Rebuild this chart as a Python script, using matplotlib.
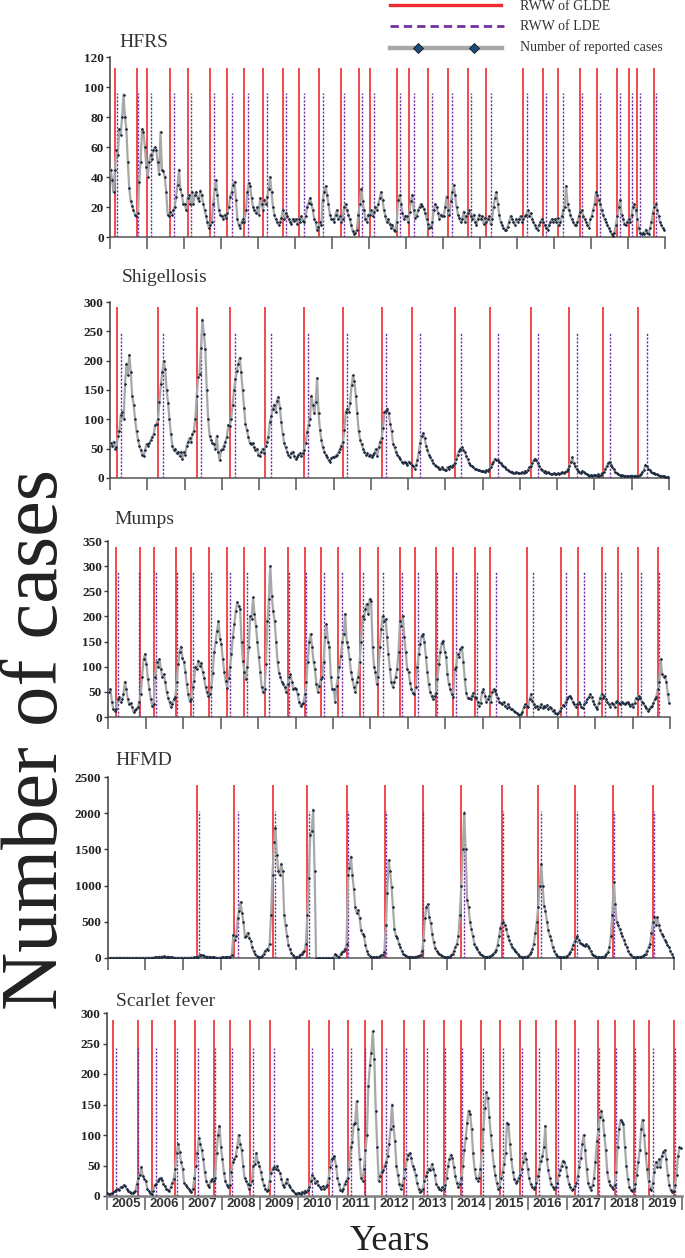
import numpy as np
import matplotlib
matplotlib.use("Agg")
import matplotlib.pyplot as plt
from matplotlib.lines import Line2D
import matplotlib.transforms as mtransforms

# ---------------- data (bi-weekly readings, 2005-2019) ----------------
year_labels = [str(y) for y in range(2005, 2020)]

hfrs_cases = [
    45, 38, 30, 45, 58, 55, 72, 68, 80, 95, 80, 72, 50, 33, 24, 21, 18, 15, 14, 16, 37, 50, 72, 70, 60, 47,
    40, 50, 55, 52, 58, 60, 58, 50, 42, 70, 45, 44, 40, 30, 15, 14, 17, 15, 18, 20, 27, 35, 45, 32, 28, 22,
    22, 18, 26, 28, 22, 30, 22, 28, 30, 26, 24, 31, 28, 22, 18, 14, 10, 6, 8, 10, 22, 32, 38, 28, 18, 15,
    14, 12, 15, 13, 16, 20, 27, 30, 35, 37, 25, 12, 8, 6, 10, 12, 10, 18, 30, 36, 34, 26, 20, 18, 16, 20,
    15, 26, 22, 18, 25, 22, 27, 32, 40, 30, 20, 15, 12, 10, 8, 10, 13, 18, 12, 16, 14, 12, 10, 9, 12, 11,
    12, 9, 12, 10, 14, 11, 10, 14, 20, 23, 26, 22, 18, 12, 10, 5, 7, 10, 8, 25, 30, 34, 28, 22, 15, 12,
    12, 10, 15, 18, 12, 14, 10, 12, 20, 22, 18, 15, 12, 8, 4, 2, 3, 5, 15, 22, 32, 24, 18, 12, 10, 15,
    15, 18, 14, 17, 20, 18, 22, 26, 30, 25, 18, 14, 10, 12, 9, 6, 8, 5, 4, 10, 25, 28, 22, 16, 12, 14,
    14, 10, 17, 24, 28, 18, 13, 14, 18, 20, 22, 21, 19, 16, 12, 9, 6, 7, 10, 18, 22, 20, 16, 12, 15, 14,
    14, 20, 27, 18, 15, 24, 30, 35, 28, 20, 15, 13, 10, 12, 17, 10, 14, 16, 18, 14, 12, 15, 10, 8, 12, 15,
    12, 14, 9, 13, 10, 12, 14, 9, 12, 20, 26, 30, 22, 15, 10, 8, 6, 5, 5, 7, 10, 14, 12, 10, 8, 12,
    10, 12, 14, 10, 12, 14, 15, 18, 14, 16, 12, 10, 8, 6, 5, 8, 10, 12, 10, 8, 6, 5, 8, 10, 12, 10,
    12, 10, 13, 8, 10, 14, 18, 20, 34, 22, 18, 15, 12, 10, 8, 8, 10, 14, 17, 18, 14, 12, 10, 8, 6, 12,
    14, 18, 22, 30, 28, 25, 22, 18, 15, 12, 10, 8, 6, 4, 2, 1, 3, 8, 14, 20, 25, 15, 12, 9, 8, 10,
    12, 10, 15, 20, 22, 18, 12, 6, 3, 2, 3, 2, 5, 3, 2, 6, 10, 16, 20, 22, 18, 14, 10, 8, 6, 5,
]

shigellosis_cases = [
    60, 55, 62, 50, 52, 72, 80, 108, 112, 100, 160, 195, 175, 210, 180, 140, 125, 100, 80, 65, 55, 48, 40, 38, 48, 58,
    55, 60, 65, 70, 75, 90, 92, 100, 130, 160, 180, 200, 185, 150, 128, 100, 75, 55, 48, 50, 42, 45, 38, 45, 32, 45,
    40, 55, 62, 68, 62, 75, 80, 100, 140, 172, 178, 222, 270, 245, 220, 150, 100, 72, 65, 60, 58, 50, 72, 45, 30, 48,
    50, 55, 62, 70, 90, 88, 100, 125, 150, 168, 182, 195, 205, 180, 150, 120, 92, 82, 70, 60, 58, 60, 52, 48, 50, 40,
    38, 45, 50, 42, 55, 62, 70, 95, 105, 118, 125, 112, 132, 138, 120, 95, 75, 60, 52, 45, 40, 36, 42, 45, 38, 32,
    35, 40, 42, 38, 42, 48, 60, 78, 90, 100, 140, 125, 110, 130, 170, 110, 82, 65, 52, 45, 40, 35, 30, 28, 34, 36,
    35, 38, 40, 45, 50, 55, 62, 82, 112, 118, 112, 128, 158, 175, 165, 140, 110, 80, 65, 58, 50, 45, 40, 42, 38, 40,
    35, 40, 42, 50, 38, 52, 62, 68, 85, 112, 115, 118, 110, 92, 80, 58, 52, 45, 40, 36, 32, 28, 25, 28, 26, 22,
    28, 25, 22, 20, 16, 22, 30, 45, 60, 72, 76, 68, 55, 48, 40, 35, 30, 25, 22, 20, 18, 16, 15, 18, 15, 14,
    14, 18, 15, 20, 18, 22, 25, 32, 40, 46, 50, 52, 48, 44, 38, 32, 26, 22, 20, 18, 16, 15, 14, 13, 12, 12,
    12, 10, 13, 12, 15, 18, 24, 28, 32, 31, 30, 28, 25, 22, 20, 18, 15, 14, 12, 10, 11, 9, 8, 10, 9, 8,
    8, 10, 8, 12, 10, 14, 18, 20, 25, 30, 33, 30, 25, 20, 16, 13, 11, 12, 9, 10, 8, 7, 6, 8, 7, 6,
    8, 6, 8, 10, 8, 10, 12, 15, 20, 28, 35, 25, 20, 15, 12, 10, 8, 12, 10, 8, 6, 5, 4, 5, 4, 5,
    5, 4, 6, 3, 5, 8, 10, 15, 20, 25, 28, 22, 18, 15, 10, 8, 6, 5, 4, 5, 4, 3, 4, 3, 3, 4,
    4, 3, 4, 4, 3, 5, 7, 10, 14, 22, 20, 16, 13, 11, 9, 8, 7, 6, 5, 4, 4, 3, 3, 2, 2, 2,
]

mumps_cases = [
    50, 55, 30, 15, 12, 15, 35, 40, 30, 35, 45, 70, 55, 35, 25, 28, 20, 10, 14, 15, 20, 30, 45, 80, 115, 125,
    105, 75, 55, 35, 22, 25, 80, 110, 100, 115, 95, 80, 85, 70, 50, 38, 30, 20, 25, 35, 40, 70, 105, 130, 140, 118,
    110, 90, 65, 45, 32, 35, 60, 72, 100, 95, 112, 102, 108, 90, 78, 60, 50, 42, 45, 60, 88, 130, 150, 172, 190, 155,
    145, 115, 90, 72, 58, 78, 100, 125, 160, 185, 210, 228, 220, 215, 150, 112, 90, 75, 100, 140, 200, 195, 238, 205, 180, 150,
    120, 90, 60, 50, 55, 105, 190, 235, 300, 240, 210, 190, 150, 110, 88, 80, 70, 65, 60, 50, 65, 80, 85, 70, 55, 58,
    55, 45, 30, 22, 25, 28, 45, 70, 110, 150, 165, 140, 110, 95, 65, 50, 62, 75, 80, 110, 160, 185, 150, 140, 80, 55,
    55, 30, 62, 80, 100, 122, 150, 165, 205, 150, 140, 115, 90, 75, 60, 50, 70, 80, 110, 150, 200, 195, 215, 225, 205, 235,
    230, 140, 100, 90, 65, 80, 140, 175, 200, 190, 195, 160, 125, 95, 70, 60, 70, 80, 95, 130, 190, 180, 200, 160, 130, 95,
    90, 68, 55, 48, 45, 60, 100, 125, 145, 162, 165, 150, 120, 90, 65, 50, 42, 35, 42, 48, 75, 105, 130, 148, 152, 130,
    120, 85, 65, 55, 45, 40, 95, 100, 125, 120, 135, 140, 110, 75, 48, 38, 38, 35, 42, 48, 40, 38, 30, 22, 28, 50,
    55, 42, 30, 35, 42, 30, 50, 55, 52, 45, 38, 30, 28, 25, 30, 22, 18, 25, 20, 15, 15, 12, 10, 8, 5, 4,
    5, 10, 20, 25, 22, 20, 35, 45, 32, 25, 20, 22, 15, 20, 25, 18, 22, 20, 24, 16, 20, 17, 12, 14, 8, 6,
    8, 12, 18, 24, 22, 30, 35, 40, 42, 38, 30, 25, 20, 25, 30, 25, 20, 18, 25, 30, 35, 40, 45, 40, 32, 25,
    20, 15, 28, 38, 45, 38, 42, 35, 30, 25, 20, 28, 25, 20, 30, 32, 28, 25, 30, 28, 25, 28, 30, 25, 22, 25,
    20, 28, 38, 35, 42, 38, 30, 28, 22, 18, 12, 15, 20, 22, 28, 35, 40, 55, 70, 115, 85, 80, 82, 70, 45, 28,
]

hfmd_cases = [
    2, 3, 2, 3, 2, 3, 3, 4, 3, 3, 4, 3, 3, 2, 2, 3, 2, 2, 2, 3, 2, 2, 3, 2, 2, 2,
    3, 3, 4, 5, 5, 6, 8, 10, 12, 15, 18, 20, 22, 20, 18, 15, 12, 10, 8, 6, 5, 4, 4, 3, 3, 3,
    3, 3, 4, 4, 5, 5, 6, 8, 10, 12, 15, 45, 40, 35, 25, 20, 18, 15, 12, 10, 8, 8, 6, 6, 5, 5,
    10, 8, 8, 10, 12, 15, 20, 40, 320, 250, 300, 550, 650, 770, 620, 500, 290, 300, 350, 280, 240, 150, 90, 50, 25, 12,
    10, 15, 30, 60, 100, 120, 110, 200, 600, 1150, 1600, 1800, 1420, 1200, 1150, 1300, 1200, 600, 450, 300, 180, 120, 70, 35, 18, 10,
    10, 20, 45, 60, 80, 100, 200, 600, 1100, 1700, 1750, 2050, 1200, 0, 0, 0, 0, 0, 0, 0, 0, 0, 0, 0, 0, 0,
    50, 35, 18, 15, 60, 80, 100, 120, 200, 1150, 1250, 1400, 1150, 950, 700, 620, 660, 550, 380, 330, 310, 180, 100, 50, 25, 12,
    10, 12, 10, 15, 18, 25, 35, 45, 80, 450, 900, 1350, 1200, 980, 700, 400, 300, 280, 200, 150, 100, 60, 40, 28, 20, 15,
    15, 12, 10, 15, 20, 25, 30, 40, 100, 250, 550, 700, 740, 560, 480, 330, 220, 140, 100, 75, 55, 40, 25, 18, 12, 8,
    10, 20, 40, 60, 100, 150, 200, 300, 600, 1000, 1500, 2000, 1500, 800, 700, 500, 400, 300, 200, 150, 120, 80, 60, 40, 25, 15,
    10, 12, 18, 25, 40, 60, 80, 110, 180, 300, 420, 490, 500, 450, 400, 300, 250, 200, 150, 120, 100, 80, 50, 30, 20, 12,
    10, 15, 20, 30, 50, 80, 120, 200, 350, 500, 700, 1000, 1300, 1000, 720, 650, 500, 380, 300, 250, 150, 100, 50, 30, 20, 10,
    8, 10, 15, 20, 30, 50, 80, 120, 180, 230, 280, 300, 250, 210, 200, 180, 160, 190, 170, 140, 100, 60, 40, 25, 15, 10,
    8, 10, 15, 20, 30, 50, 80, 150, 300, 600, 1050, 750, 500, 450, 400, 350, 300, 250, 200, 150, 100, 60, 35, 20, 12, 8,
    8, 10, 15, 20, 30, 40, 60, 100, 150, 200, 350, 500, 560, 450, 560, 450, 380, 335, 300, 250, 220, 180, 150, 100, 50, 20,
]

scarlet_cases = [
    5, 3, 3, 5, 6, 8, 10, 12, 10, 15, 14, 18, 16, 12, 9, 7, 5, 5, 6, 9, 20, 30, 35, 48, 32, 28,
    25, 12, 8, 5, 3, 8, 18, 20, 24, 28, 30, 26, 20, 16, 12, 10, 8, 15, 22, 28, 45, 70, 85, 72, 55, 45,
    22, 18, 15, 12, 8, 6, 12, 30, 50, 70, 95, 85, 75, 60, 40, 25, 18, 15, 25, 28, 25, 30, 70, 100, 115, 80,
    60, 38, 25, 18, 15, 18, 40, 55, 60, 65, 80, 100, 85, 75, 50, 30, 25, 20, 12, 18, 25, 50, 52, 70, 55, 50,
    40, 28, 18, 12, 8, 10, 25, 38, 45, 48, 45, 50, 42, 38, 28, 18, 15, 22, 28, 18, 14, 10, 8, 5, 3, 5,
    5, 3, 7, 5, 9, 6, 10, 15, 25, 35, 30, 22, 25, 18, 15, 12, 16, 12, 15, 18, 30, 48, 60, 63, 65, 50,
    30, 20, 10, 8, 12, 20, 25, 30, 45, 80, 88, 118, 120, 155, 110, 60, 30, 25, 45, 75, 100, 180, 215, 235, 270, 225,
    140, 80, 25, 32, 40, 42, 50, 55, 65, 85, 110, 150, 115, 90, 50, 35, 20, 12, 18, 30, 45, 60, 68, 70, 62, 50,
    45, 35, 22, 12, 6, 8, 12, 25, 32, 40, 45, 42, 52, 45, 35, 20, 15, 12, 10, 14, 12, 18, 30, 50, 60, 68,
    62, 48, 32, 22, 15, 20, 30, 50, 75, 95, 120, 140, 135, 110, 70, 45, 30, 25, 30, 45, 75, 110, 145, 170, 160, 130,
    100, 75, 50, 35, 22, 12, 15, 30, 40, 52, 70, 120, 118, 85, 60, 40, 28, 22, 25, 30, 35, 45, 55, 70, 60, 45,
    30, 20, 14, 12, 15, 22, 32, 45, 58, 65, 80, 115, 60, 42, 30, 20, 15, 12, 15, 22, 35, 42, 50, 58, 55, 48,
    32, 20, 14, 10, 12, 16, 22, 32, 48, 62, 85, 100, 75, 45, 22, 14, 10, 18, 30, 55, 90, 110, 130, 140, 125, 100,
    75, 40, 25, 18, 14, 12, 18, 40, 80, 110, 125, 122, 118, 80, 50, 28, 15, 10, 8, 12, 20, 35, 55, 75, 110, 125,
    100, 70, 45, 25, 12, 10, 22, 40, 55, 48, 60, 48, 65, 72, 75, 60, 35, 18, 10, 7, 8, 18, 35, 65, 80, 78,
]

# RWW week indices (week 0 = first week of 2005)
hfrs_gl = [7, 38, 52, 85, 110, 140, 165, 189, 215, 243, 266, 294, 325, 350, 365, 404, 420, 447, 475, 503,
           528, 580, 609, 630, 660, 684, 712, 730, 741, 764]
hfrs_l = [10, 40, 57, 90, 114, 146, 171, 194, 221, 248, 272, 300, 329, 354, 371, 408, 427, 452, 480, 508,
          535, 586, 613, 636, 664, 688, 717, 733, 745, 768]
shig_gl = [10, 67, 122, 167, 216, 271, 325, 379, 421, 482, 530, 588, 641, 688, 737]
shig_l = [15, 74, 127, 174, 224, 276, 330, 385, 433, 490, 541, 597, 652, 698, 749]
mumps_gl = [10, 44, 63, 94, 115, 140, 165, 189, 218, 249, 273, 296, 319, 350, 375, 405, 426, 455, 478, 509,
            530, 581, 629, 652, 685, 708, 735, 763]
mumps_l = [13, 43, 66, 96, 118, 143, 169, 192, 223, 251, 275, 299, 324, 354, 381, 408, 430, 457, 483, 512,
           538, 590, 635, 660, 690, 712, 740, 765]
hfmd_gl = [123, 174, 227, 274, 330, 382, 434, 487, 543, 593, 644, 696, 751]
hfmd_l = [126, 179, 231, 277, 331, 383, 434, 491, 544, 597, 647, 698, 752]
scarlet_gl = [8, 42, 62, 92, 120, 146, 167, 195, 221, 274, 302, 328, 350, 374, 403, 430, 457, 481, 508, 534,
              560, 583, 610, 635, 666, 689, 715, 735, 769]
scarlet_l = [12, 43, 67, 95, 124, 147, 170, 198, 227, 278, 305, 331, 351, 379, 406, 434, 459, 482, 510, 537,
             563, 586, 612, 640, 668, 691, 717, 741, 771]

titles = ["HFRS", "Shigellosis", "Mumps", "HFMD", "Scarlet fever"]
y_max = [120, 300, 350, 2500, 300]
y_step = [20, 50, 50, 500, 50]
gl_top = [113, 291, 339, 2385, 288]
l_top = [96, 247, 288, 2027, 242]

# ---------------- layout ----------------
W, H = 685, 1258
fig = plt.figure(figsize=(W / 100, H / 100), dpi=100)
SERIF = ["Liberation Serif", "DejaVu Serif"]
N_WEEKS = 780

# axes boxes in pixels: left, right, top, bottom
boxes = [(110, 665, 57, 237), (110, 669, 302, 478), (108.3, 670, 541, 717),
         (107.7, 674, 777, 958), (106.7, 681.7, 1013, 1196)]
title_pos = [(119, 47), (122, 282), (114, 524), (115, 765), (116, 1006)]

series = [hfrs_cases, shigellosis_cases, mumps_cases, hfmd_cases, scarlet_cases]
gls = [hfrs_gl, shig_gl, mumps_gl, hfmd_gl, scarlet_gl]
ls_ = [hfrs_l, shig_l, mumps_l, hfmd_l, scarlet_l]

RED = "#ee2b2f"
PURPLE = "#7232a3"
GRAY = "#a8a8a8"
DOT = "#1b2a40"

year_ticks = np.arange(0, N_WEEKS + 1, 52)

for k in range(5):
    l, r, t, b = boxes[k]
    ax = fig.add_axes([l / W, 1 - b / H, (r - l) / W, (b - t) / H])
    vals = np.array(series[k], dtype=float)
    n = len(vals)
    x = (np.arange(n) + 0.5) * N_WEEKS / n

    ax.vlines(gls[k], 0, gl_top[k], color=RED, lw=1.2, zorder=2)
    ax.vlines(ls_[k], 0, l_top[k], color=PURPLE, lw=1.0, linestyles=(0, (1.6, 1.1)), zorder=3)
    ax.plot(x, vals, color=GRAY, lw=1.6, zorder=4, solid_joinstyle="round")
    ax.plot(x, vals, ls="none", marker="D", ms=1.4, mfc=DOT, mec=DOT, mew=0.3, zorder=5)

    ax.set_xlim(0, N_WEEKS)
    ax.set_ylim(0, y_max[k])
    ax.set_yticks(np.arange(0, y_max[k] + 1, y_step[k]))
    ax.set_xticks(year_ticks)
    ax.set_xticklabels([])
    for s in ("top", "right"):
        ax.spines[s].set_visible(False)
    ax.spines["left"].set_color("#3c3c3c")
    ax.spines["left"].set_linewidth(1.1)
    ax.tick_params(axis="y", direction="out", length=3, width=1, color="#3c3c3c", pad=1.5,
                   labelsize=9.5)
    for lab in ax.get_yticklabels():
        lab.set_family(SERIF)
        lab.set_fontweight("bold")
        lab.set_color("#222222")

    if k < 4:
        ax.spines["bottom"].set_color("#555555")
        ax.spines["bottom"].set_linewidth(1.1)
        ax.tick_params(axis="x", direction="out", length=8.5, width=1.1, color="#555555")
    else:
        ax.spines["bottom"].set_color("#808080")
        ax.spines["bottom"].set_linewidth(1.8)
        ax.tick_params(axis="x", direction="out", length=10, width=1.4, color="#808080")
        trans = mtransforms.blended_transform_factory(ax.transData, ax.transAxes)
        for i, lab in enumerate(year_labels):
            ax.text(26 + 52 * i, -0.045, lab, transform=trans, ha="center", va="center",
                    fontsize=9.5, fontweight="bold", family=["Liberation Sans", "DejaVu Sans"],
                    color="#333333")

    tx, ty = title_pos[k]
    fig.text(tx / W, 1 - ty / H, titles[k], fontsize=14, family=SERIF, color="#333333",
             ha="left", va="baseline")

# axis labels
fig.text(57 / W, 1 - 740 / H, "Number of cases", rotation=90, rotation_mode="anchor",
         fontsize=58, family=SERIF, ha="center", va="baseline", color="#222222")
fig.text(390 / W, 1 - 1241 / H, "Years", fontsize=26, family=SERIF, ha="center", va="center",
         color="#222222")

# legend (figure coordinates)
def fy(p):
    return 1 - p / H

fig.add_artist(Line2D([390 / W, 501 / W], [fy(5), fy(5)], color=RED, lw=2.4))
fig.add_artist(Line2D([390 / W, 504 / W], [fy(26), fy(26)], color=PURPLE, lw=2.0,
                      linestyle=(0, (3.0, 1.8))))
fig.add_artist(Line2D([390 / W, 502 / W], [fy(48), fy(48)], color="#a8a8a8", lw=3.2))
fig.add_artist(Line2D([418 / W, 474 / W], [fy(48), fy(48)], ls="none", marker="D", ms=5,
                      mfc="#1f4e79", mec="#111111", mew=0.6))
leg_text = ["RWW of GLDE", "RWW of LDE", "Number of reported cases"]
leg_y = [6, 26, 47]
for txt, yy in zip(leg_text, leg_y):
    fig.text(520 / W, fy(yy), txt, fontsize=10, family=SERIF, ha="left", va="center",
             color="#333333")

fig.savefig("out.png", dpi=100)
